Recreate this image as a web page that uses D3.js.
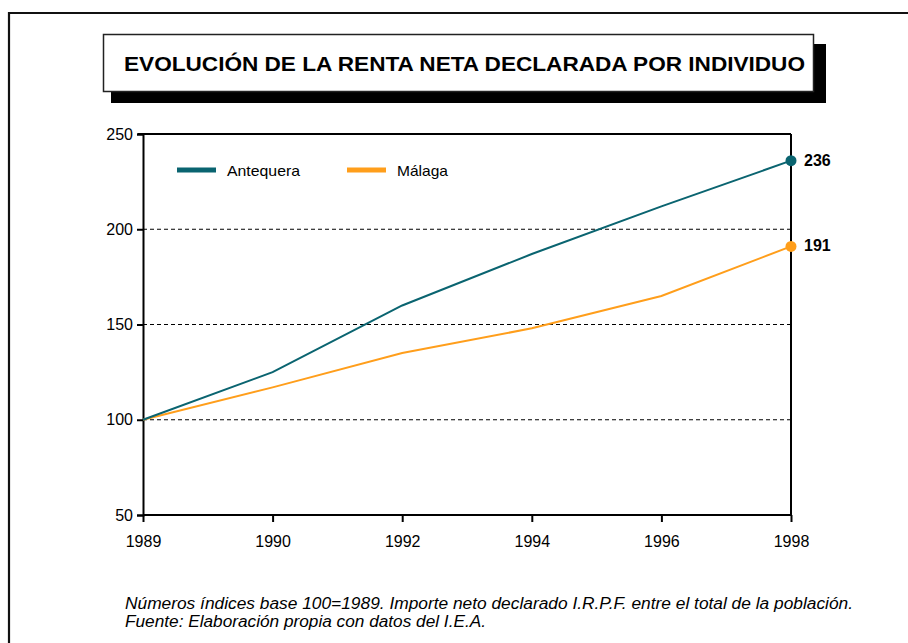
<!DOCTYPE html>
<html><head><meta charset="utf-8">
<script src="https://cdn.jsdelivr.net/npm/d3@7"></script>
<style>body{margin:0;background:#fff}svg{display:block;font-family:Arial,"Liberation Sans",sans-serif}</style>
</head><body><svg id="c" width="908" height="643"></svg>
<script>
const years = ["1989","1990","1992","1994","1996","1998"];
const antequera = [100,125,160,187,212,236];
const malaga = [100,117,135,148,165,191];
const yTicks = [50,100,150,200,250];
const gridVals = [100,150,200];
const seriesNames = ["Antequera","Málaga"];
const colors = ["#0A6470","#FF9E1B"];
const title = "EVOLUCIÓN DE LA RENTA NETA DECLARADA POR INDIVIDUO";
const notes = ["Números índices base 100=1989. Importe neto declarado I.R.P.F. entre el total de la población.",
               "Fuente: Elaboración propia con datos del I.E.A."];

const svg = d3.select("#c");
// outer frame
svg.append("path").attr("d","M9,650 V13 H915").attr("fill","none").attr("stroke","#111").attr("stroke-width",2.2);

// title box with shadow
svg.append("rect").attr("x",111).attr("y",44).attr("width",715).attr("height",59).attr("fill","#000");
svg.append("rect").attr("x",103.5).attr("y",34.5).attr("width",710).attr("height",57).attr("fill","#fff").attr("stroke","#222").attr("stroke-width",1.5);
svg.append("text").attr("x",124).attr("y",71)
  .attr("font-size",20).attr("font-weight","bold").attr("fill","#000")
  .attr("textLength",681).attr("lengthAdjust","spacingAndGlyphs").text(title);

const x = d3.scalePoint().domain(years).range([143,791]);
const y = d3.scaleLinear().domain([50,250]).range([515,134]);

// gridlines
svg.append("g").selectAll("line").data(gridVals).join("line")
  .attr("x1",143).attr("x2",791).attr("y1",d=>y(d)).attr("y2",d=>y(d))
  .attr("stroke","#000").attr("stroke-width",1).attr("stroke-dasharray","4,3");

// frame of plot: top and right
svg.append("line").attr("x1",138).attr("x2",791).attr("y1",134).attr("y2",134).attr("stroke","#000").attr("stroke-width",2);
svg.append("line").attr("x1",791).attr("x2",791).attr("y1",134).attr("y2",515).attr("stroke","#000").attr("stroke-width",2);

// axes
const yAxis = svg.append("g").attr("transform","translate(143,0)")
  .call(d3.axisLeft(y).tickValues(yTicks).tickSize(6).tickPadding(4).tickFormat(d3.format("d")));
const xAxis = svg.append("g").attr("transform","translate(0,515)")
  .call(d3.axisBottom(x).tickSize(7).tickPadding(14));
[yAxis,xAxis].forEach(a=>{
  a.select(".domain").attr("stroke","#000").attr("stroke-width",2);
  a.selectAll(".tick line").attr("stroke","#000").attr("stroke-width",2);
  a.selectAll("text").attr("fill","#000")
    .style("font-family","Arial,'Liberation Sans',sans-serif").style("font-size","16px");
});
xAxis.select(".domain").attr("d","M143,0H791");

// lines
const line = d3.line().x((d,i)=>x(years[i])).y(d=>y(d));
[[malaga,1],[antequera,0]].forEach(([s,idx])=>{
  svg.append("path").datum(s).attr("d",line).attr("fill","none")
    .attr("stroke",colors[idx]).attr("stroke-width",2);
});
// end markers & labels
[antequera, malaga].forEach((s,i)=>{
  const last = s[s.length-1];
  svg.append("circle").attr("cx",x(years[years.length-1])).attr("cy",y(last)).attr("r",5.5).attr("fill",colors[i]);
  svg.append("text").attr("x",804).attr("y",y(last)+5).style("font-size","16px").attr("font-weight","bold").text(last);
});

// legend
const lg = svg.append("g");
const legX = [177,347];
const legW = [73,51];
seriesNames.forEach((n,i)=>{
  lg.append("line").attr("x1",legX[i]).attr("x2",legX[i]+39).attr("y1",170).attr("y2",170)
    .attr("stroke",colors[i]).attr("stroke-width",5);
  lg.append("text").attr("x",legX[i]+50).attr("y",176).style("font-size","15px").attr("fill","#000")
    .attr("textLength",legW[i]).attr("lengthAdjust","spacingAndGlyphs").text(n);
});

// notes
const noteW = [728,361];
notes.forEach((t,i)=>{
  svg.append("text").attr("x",125).attr("y",609+i*18).attr("font-size",16).attr("font-style","italic")
    .attr("fill","#000").attr("textLength", noteW[i]).attr("lengthAdjust","spacingAndGlyphs").text(t);
});
</script></body></html>
